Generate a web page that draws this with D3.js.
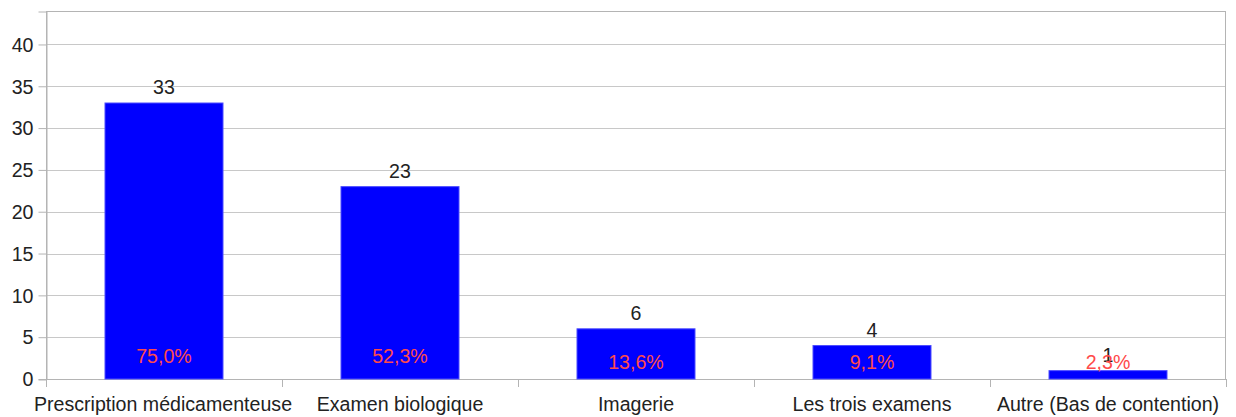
<!DOCTYPE html>
<html><head><meta charset="utf-8">
<script src="https://cdn.jsdelivr.net/npm/d3@7"></script>
<style>body{margin:0;background:#fff}text{font-family:"Liberation Sans",Arial,sans-serif}</style>
</head><body>
<svg id="c" width="1236" height="417"></svg>
<script>
const categories = ["Prescription médicamenteuse","Examen biologique","Imagerie","Les trois examens","Autre (Bas de contention)"];
const values = [33, 23, 6, 4, 1];
const percents = ["75,0%","52,3%","13,6%","9,1%","2,3%"];
const yTicks = [0,5,10,15,20,25,30,35,40];

const svg = d3.select("#c");
const L=46, R=1226, T=11, B=379;
const FS = 19.6;
const x = d3.scaleBand().domain(categories).range([L,R]).paddingInner(0).paddingOuter(0);
const y = d3.scaleLinear().domain([0,44]).range([B,T]);

// grid
svg.append("g").selectAll("line").data(yTicks).join("line")
  .attr("x1",L).attr("x2",R).attr("y1",d=>Math.round(y(d))+0.5).attr("y2",d=>Math.round(y(d))+0.5)
  .attr("stroke","#c8c8c8").attr("stroke-width",1);
// frame
svg.append("rect").attr("x",L+0.5).attr("y",T+0.5).attr("width",R-L-1).attr("height",B-T)
  .attr("fill","none").attr("stroke","#b4b4b4");

// y axis
const ya = svg.append("g").attr("transform",`translate(${L+0.5},0.5)`)
  .call(d3.axisLeft(y).tickValues(yTicks).tickSize(8).tickPadding(5));
ya.select(".domain").attr("stroke","#b4b4b4");
ya.selectAll(".tick line").attr("stroke","#b4b4b4").attr("transform","translate(0,-0.5)");
ya.selectAll("text").attr("font-size",FS).attr("fill","#222").attr("font-family","Liberation Sans, Arial, sans-serif");

// x axis
const bounds = categories.map(c=>x(c)).concat([R]);
svg.append("g").selectAll("line").data(bounds).join("line")
  .attr("x1",d=>Math.round(d)+0.5).attr("x2",d=>Math.round(d)+0.5).attr("y1",B).attr("y2",B+8)
  .attr("stroke","#b4b4b4");
svg.append("line").attr("x1",L).attr("x2",R).attr("y1",B+0.5).attr("y2",B+0.5).attr("stroke","#b4b4b4");
svg.append("g").selectAll("text").data(categories).join("text")
  .attr("x",d=>x(d)+x.bandwidth()/2-0.5*0+(d===categories[0]?-1:0)).attr("y",411)
  .attr("text-anchor","middle").attr("font-size",FS).attr("fill","#222").text(d=>d);

// bars
const bw = x.bandwidth()*0.5;
svg.append("g").selectAll("rect").data(values).join("rect")
  .attr("x",(d,i)=>x(categories[i])+x.bandwidth()/2-bw/2)
  .attr("y",d=>y(d)).attr("width",bw).attr("height",d=>y(0)-y(d))
  .attr("fill","#0000ff").attr("stroke","#4d4dff").attr("stroke-width",1);

// value labels
svg.append("g").selectAll("text").data(values).join("text")
  .attr("x",(d,i)=>x(categories[i])+x.bandwidth()/2).attr("y",d=>y(d)-9)
  .attr("text-anchor","middle").attr("font-size",FS).attr("fill","#222").text(d=>d);

// percent labels
svg.append("g").selectAll("text").data(percents).join("text")
  .attr("x",(d,i)=>x(categories[i])+x.bandwidth()/2)
  .attr("y",(d,i)=>values[i]>=10 ? y(0)-16 : y(0)-10)
  .attr("text-anchor","middle").attr("font-size",FS).attr("fill","#ff4a4a").text(d=>d);
</script>
</body></html>
